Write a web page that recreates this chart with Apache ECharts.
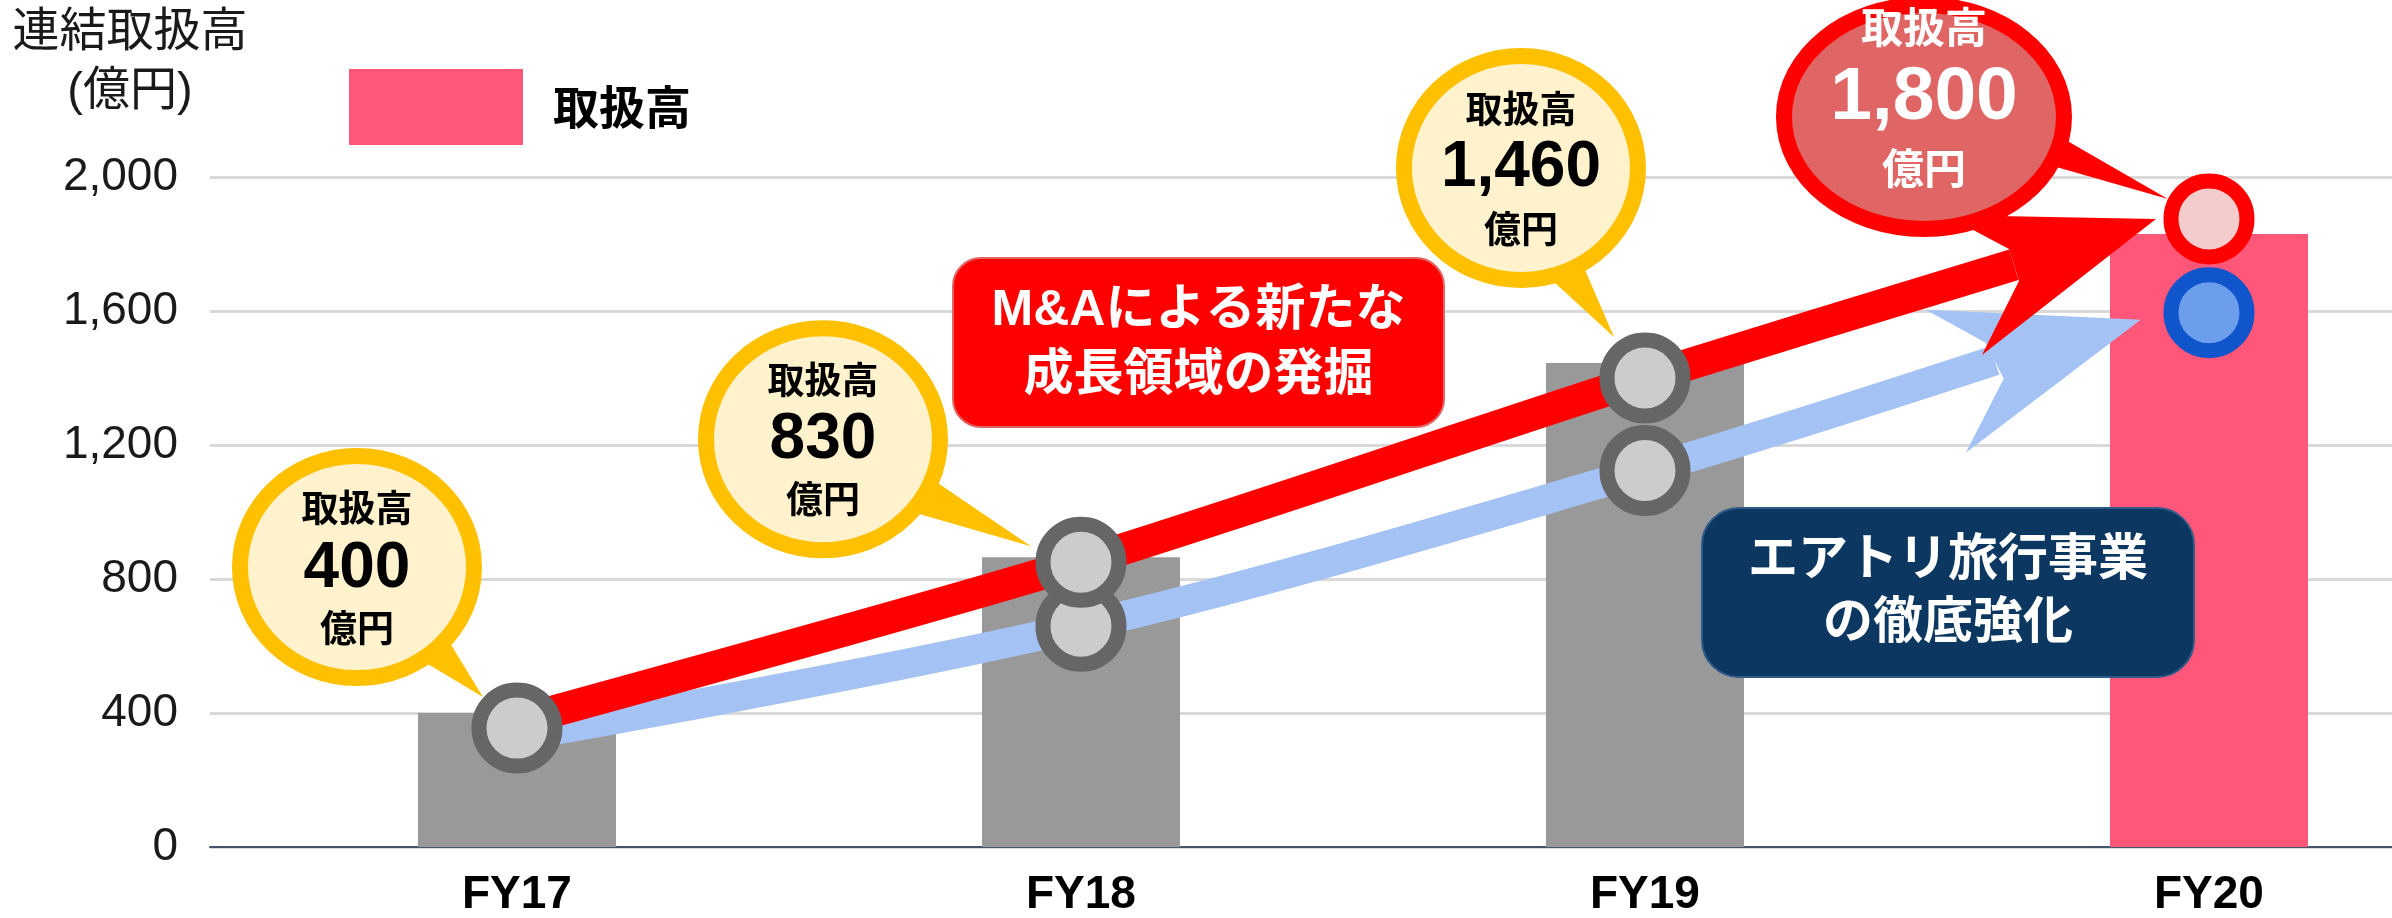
<!DOCTYPE html>
<html lang="ja">
<head>
<meta charset="UTF-8">
<title>連結取扱高</title>
<style>
  html, body { margin: 0; padding: 0; background: #ffffff; }
  #main { width: 2392px; height: 918px; }
</style>
<script src="https://cdn.jsdelivr.net/npm/echarts@6.0.0/dist/echarts.min.js"></script>
</head>
<body>
<div id="main"></div>
<script>
// data
const categories = ['FY17', 'FY18', 'FY19', 'FY20'];
const barValues = [400, 865, 1445, 1830];
const calloutTitle = '取扱高';
const calloutValues = ['400', '830', '1,460', '1,800'];
const calloutUnit = '億円';
const upperMarkers = [355, 850, 1400, 1875];
const lowerMarkers = [null, 659, 1124, 1595];
const redArrowPath = [[0, 375], [1, 850], [2, 1400], [2.654, 1738]];
const redArrowTip = [2.906, 1875];
const blueArrowPath = [[0, 330], [1, 659], [2, 1124], [2.62, 1452]];
const blueArrowTip = [2.879, 1574];
const redNote = ['M&Aによる新たな', '成長領域の発掘'];
const blueNote = ['エアトリ旅行事業', 'の徹底強化'];

const latin = "'Liberation Sans', Arial, 'Noto Sans CJK JP', sans-serif";
const jp = "'Noto Sans CJK JP', 'Liberation Sans', sans-serif";

// callout bubble layout, pixels relative to the marker it points at
const bubbleOffset = [[-160, -161], [-258, -123], [-124, -210], [-285, -102]];
const bubbleRadius = [[125, 119], [125, 119], [125, 120], [148, 120]];
const tailTip = [[-34, -31], [-50, -16], [-31, -41], [-41, -20]];
const tailAngles = [[41, 55], [22, 39], [59, 74], [12, 25]];
const textOffsets = [[-59, 2, 61], [-59, 1, 60], [-59, 0, 61], [-90, -19, 51]];
const fontSizes = [[37, 64, 37], [37, 64, 37], [37, 64, 37], [42, 75, 42]];

// arrow head outlines, pixels relative to the tip
const redHead = [[0, 0], [-211, -4], [-147, 30], [-137, 62], [-174, 136]];
const blueHead = [[0, 0], [-215, -10], [-155, 23], [-137, 59], [-175, 133]];

const chart = echarts.init(document.getElementById('main'));

function renderBubble(params, api) {
    const i = params.dataIndex;
    const m = api.coord([api.value(0), api.value(1)]);
    const cx = m[0] + bubbleOffset[i][0];
    const cy = m[1] + bubbleOffset[i][1];
    const rx = bubbleRadius[i][0], ry = bubbleRadius[i][1];
    const bw = 16;
    const last = i === 3;
    const edge = last ? '#ff0000' : '#ffc000';
    const fill = last ? '#e06666' : '#fff2cc';
    const ink = last ? '#ffffff' : '#000000';
    const a0 = tailAngles[i][0] * Math.PI / 180;
    const a1 = tailAngles[i][1] * Math.PI / 180;
    const tail = [
        [cx, cy],
        [cx + rx * Math.cos(a0), cy + ry * Math.sin(a0)],
        [m[0] + tailTip[i][0], m[1] + tailTip[i][1]],
        [cx + rx * Math.cos(a1), cy + ry * Math.sin(a1)]
    ];
    const lines = [calloutTitle, calloutValues[i], calloutUnit];
    const texts = lines.map((t, k) => ({
        type: 'text',
        x: cx,
        y: cy + textOffsets[i][k],
        style: {
            text: t,
            fill: ink,
            fontSize: fontSizes[i][k],
            fontWeight: 'bold',
            fontFamily: k === 1 ? latin : jp,
            align: 'center', verticalAlign: 'middle',
            textAlign: 'center', textVerticalAlign: 'middle'
        }
    }));
    return {
        type: 'group',
        children: [
            { type: 'polygon', shape: { points: tail }, style: { fill: edge } },
            { type: 'ellipse', shape: { cx: cx, cy: cy, rx: rx - bw / 2, ry: ry - bw / 2 },
              style: { fill: fill, stroke: edge, lineWidth: bw } }
        ].concat(texts)
    };
}

function headRenderer(outline, color) {
    return function (params, api) {
        const t = api.coord([api.value(0), api.value(1)]);
        return {
            type: 'polygon',
            shape: { points: outline.map(o => [t[0] + o[0], t[1] + o[1]]) },
            style: { fill: color }
        };
    };
}

function noteBox(x, y, w, h, r, fill, stroke, lines, lineY, size) {
    return [
        { type: 'rect', z: 100, shape: { x: x, y: y, width: w, height: h, r: r },
          style: { fill: fill, stroke: stroke, lineWidth: 2 } }
    ].concat(lines.map((t, k) => ({
        type: 'text',
        z: 101,
        x: x + w / 2,
        y: lineY[k],
        style: {
            text: t, fill: '#ffffff', fontSize: size, fontWeight: 'bold', fontFamily: latin,
            align: 'center', verticalAlign: 'middle',
            textAlign: 'center', textVerticalAlign: 'middle'
        }
    })));
}

const grayMarker = { color: '#cccccc', borderColor: '#666666', borderWidth: 15, opacity: 1 };

const option = {
    animation: false,
    title: {
        text: '連結取扱高\n(億円)',
        left: 130,
        top: 4,
        padding: 0,
        textAlign: 'center',
        textStyle: { fontSize: 47, fontWeight: 'normal', color: '#1a1a1a', lineHeight: 59, fontFamily: latin }
    },
    legend: {
        data: ['取扱高'],
        left: 349,
        top: 69,
        padding: 0,
        icon: 'rect',
        itemWidth: 174,
        itemHeight: 76,
        selectedMode: false,
        textStyle: { fontSize: 46, fontWeight: 'bold', color: '#000000', fontFamily: jp, padding: [0, 0, 0, 25] }
    },
    grid: { left: 210, right: 0, top: 177, bottom: 70 },
    xAxis: {
        type: 'value',
        min: -0.5443,
        max: 3.3245,
        splitLine: { show: false },
        axisTick: { show: false },
        axisLine: { lineStyle: { color: '#44546a', width: 2 } },
        axisLabel: {
            customValues: [0, 1, 2, 3],
            formatter: v => categories[Math.round(v)],
            fontSize: 46,
            fontWeight: 'bold',
            color: '#000000',
            fontFamily: latin,
            margin: 25
        }
    },
    yAxis: {
        type: 'value',
        min: 0,
        max: 2000,
        interval: 400,
        axisLine: { show: false },
        axisTick: { show: false },
        splitLine: { lineStyle: { color: '#d9d9d9', width: 3 } },
        axisLabel: {
            formatter: v => v.toLocaleString('en-US'),
            fontSize: 46,
            color: '#1a1a1a',
            fontFamily: latin,
            margin: 32
        }
    },
    series: [
        {
            name: '取扱高',
            type: 'bar',
            barWidth: 198,
            z: 2,
            itemStyle: { color: '#ff5779' },
            data: barValues.map((v, i) => ({
                value: [i, v],
                itemStyle: { color: i === 3 ? '#ff5779' : '#999999' }
            }))
        },
        {
            name: 'blueShaft',
            type: 'line',
            z: 3,
            smooth: 0.35,
            symbol: 'none',
            lineStyle: { color: '#a4c2f4', width: 30 },
            data: blueArrowPath
        },
        {
            name: 'blueHead',
            type: 'custom',
            z: 4,
            renderItem: headRenderer(blueHead, '#a4c2f4'),
            data: [blueArrowTip]
        },
        {
            name: 'redShaft',
            type: 'line',
            z: 5,
            smooth: 0.25,
            symbol: 'none',
            lineStyle: { color: '#ff0000', width: 32 },
            data: redArrowPath
        },
        {
            name: 'redHead',
            type: 'custom',
            z: 6,
            renderItem: headRenderer(redHead, '#ff0000'),
            data: [redArrowTip]
        },
        {
            name: 'lowerMarkers',
            type: 'scatter',
            z: 7,
            symbol: 'circle',
            symbolSize: 76,
            data: lowerMarkers.map((v, i) => v === null ? null : ({
                value: [i, v],
                itemStyle: i === 3
                    ? { color: '#6d9eeb', borderColor: '#1155cc', borderWidth: 15, opacity: 1 }
                    : grayMarker
            })).filter(d => d !== null)
        },
        {
            name: 'upperMarkers',
            type: 'scatter',
            z: 8,
            symbol: 'circle',
            symbolSize: 76,
            data: upperMarkers.map((v, i) => ({
                value: [i, v],
                itemStyle: i === 3
                    ? { color: '#f4cccc', borderColor: '#ff0000', borderWidth: 15, opacity: 1 }
                    : grayMarker
            }))
        },
        {
            name: 'callouts',
            type: 'custom',
            z: 9,
            renderItem: renderBubble,
            data: upperMarkers.map((v, i) => [i, v])
        }
    ],
    graphic: noteBox(953, 258, 491, 169, 28, '#ff0000', '#e06666', redNote, [311, 376], 50)
        .concat(noteBox(1702, 508, 492, 169, 37, '#0b3760', '#2e5a88', blueNote, [561, 624], 50))
};

chart.setOption(option);
</script>
</body>
</html>
